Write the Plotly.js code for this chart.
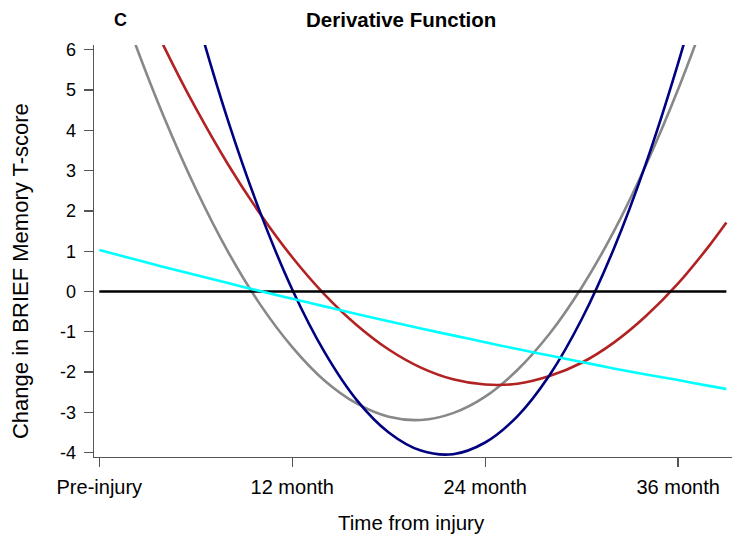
<!DOCTYPE html>
<html>
<head>
<meta charset="utf-8">
<script src="https://cdn.plot.ly/plotly-3.0.1.min.js"></script>
<style>html,body{margin:0;padding:0;background:#fff;}#chart{width:732px;height:536px;}</style>
</head>
<body>
<div id="chart"></div>
<script>
// Time from injury (months)
const months = [0, 2, 4, 6, 8, 10, 12, 14, 16, 18, 20, 22, 24, 26, 28, 30, 32, 34, 36, 38, 39];
// Derivative curves (change in BRIEF Memory T-score)
const grayCurve = [8.70, 6.40, 4.35, 2.55, 0.99, -0.32, -1.38, -2.21, -2.78, -3.11, -3.19, -3.02, -2.61, -1.95, -1.05, 0.10, 1.49, 3.14, 5.02, 7.16, 8.32];
const redCurve  = [9.68, 7.81, 6.10, 4.55, 3.16, 1.93, 0.85, -0.07, -0.83, -1.44, -1.89, -2.18, -2.31, -2.29, -2.10, -1.77, -1.27, -0.61, 0.20, 1.17, 1.71];
const navyCurve = [17.07, 13.31, 9.93, 6.91, 4.25, 1.97, 0.05, -1.50, -2.69, -3.50, -3.95, -4.04, -3.75, -3.10, -2.08, -0.69, 1.06, 3.18, 5.67, 8.52, 10.09];
const cyanCurve = [1.03, 0.82, 0.61, 0.41, 0.21, 0.01, -0.18, -0.37, -0.56, -0.74, -0.92, -1.09, -1.26, -1.43, -1.59, -1.75, -1.91, -2.06, -2.20, -2.35, -2.42];
const zeroLineX = [0, 39];
const zeroLineY = [0, 0];
// Tick labels
const xTickVals = [0, 12, 24, 36];
const xTickText = ["Pre-injury", "12 month", "24 month", "36 month"];
const yTickVals = [-4, -3, -2, -1, 0, 1, 2, 3, 4, 5, 6];
const yTickText = ["-4", "-3", "-2", "-1", "0", "1", "2", "3", "4", "5", "6"];

const FONT = "Liberation Sans, Arial, Helvetica, sans-serif";

const traces = [
  {x: months, y: grayCurve, mode: "lines", line: {color: "#888888", width: 2.6, shape: "spline"}, hoverinfo: "skip"},
  {x: months, y: redCurve, mode: "lines", line: {color: "#B22222", width: 2.6, shape: "spline"}, hoverinfo: "skip"},
  {x: months, y: navyCurve, mode: "lines", line: {color: "#000080", width: 2.6, shape: "spline"}, hoverinfo: "skip"},
  {x: zeroLineX, y: zeroLineY, mode: "lines", line: {color: "#000000", width: 2.6}, hoverinfo: "skip"},
  {x: months, y: cyanCurve, mode: "lines", line: {color: "#00FFFF", width: 2.6, shape: "spline"}, hoverinfo: "skip"}
];

const axisCommon = {
  showline: true, linecolor: "#555555", linewidth: 1.3,
  ticks: "outside", ticklen: 9, tickwidth: 1.3, tickcolor: "#555555",
  showgrid: false, zeroline: false, fixedrange: true
};

const layout = {
  width: 732, height: 536,
  margin: {l: 94, r: 0, t: 45, b: 79, pad: 0},
  paper_bgcolor: "#ffffff", plot_bgcolor: "#ffffff",
  showlegend: false,
  font: {family: FONT, color: "#000000"},
  xaxis: Object.assign({}, axisCommon, {
    range: [-0.33, 39.35],
    tickmode: "array", tickvals: xTickVals, ticktext: xTickText,
    ticklabelstandoff: 3,
    tickfont: {family: FONT, size: 20, color: "#000000"}
  }),
  yaxis: Object.assign({}, axisCommon, {
    range: [-4.11, 6.12],
    tickmode: "array", tickvals: yTickVals, ticktext: yTickText,
    ticklabelstandoff: 4,
    tickfont: {family: FONT, size: 18, color: "#000000"}
  }),
  annotations: [
    {text: "<b>Derivative Function</b>", xref: "paper", yref: "paper", x: 0.481, y: 1.063,
     xanchor: "center", yanchor: "middle", showarrow: false, font: {family: FONT, size: 20.5, color: "#000"}},
    {text: "<b>C</b>", xref: "paper", yref: "paper", x: 0.041, y: 1.061,
     xanchor: "center", yanchor: "middle", showarrow: false, font: {family: FONT, size: 18, color: "#000"}},
    {text: "Time from injury", xref: "paper", yref: "paper", x: 0.497, y: -0.158,
     xanchor: "center", yanchor: "middle", showarrow: false, font: {family: FONT, size: 20.5, color: "#000"}},
    {text: "Change in BRIEF Memory T-score", xref: "paper", yref: "paper", x: -0.114, y: 0.452,
     xanchor: "center", yanchor: "middle", textangle: -90, showarrow: false, font: {family: FONT, size: 22, color: "#000"}}
  ]
};

Plotly.newPlot("chart", traces, layout, {staticPlot: true, displayModeBar: false});
</script>
</body>
</html>
